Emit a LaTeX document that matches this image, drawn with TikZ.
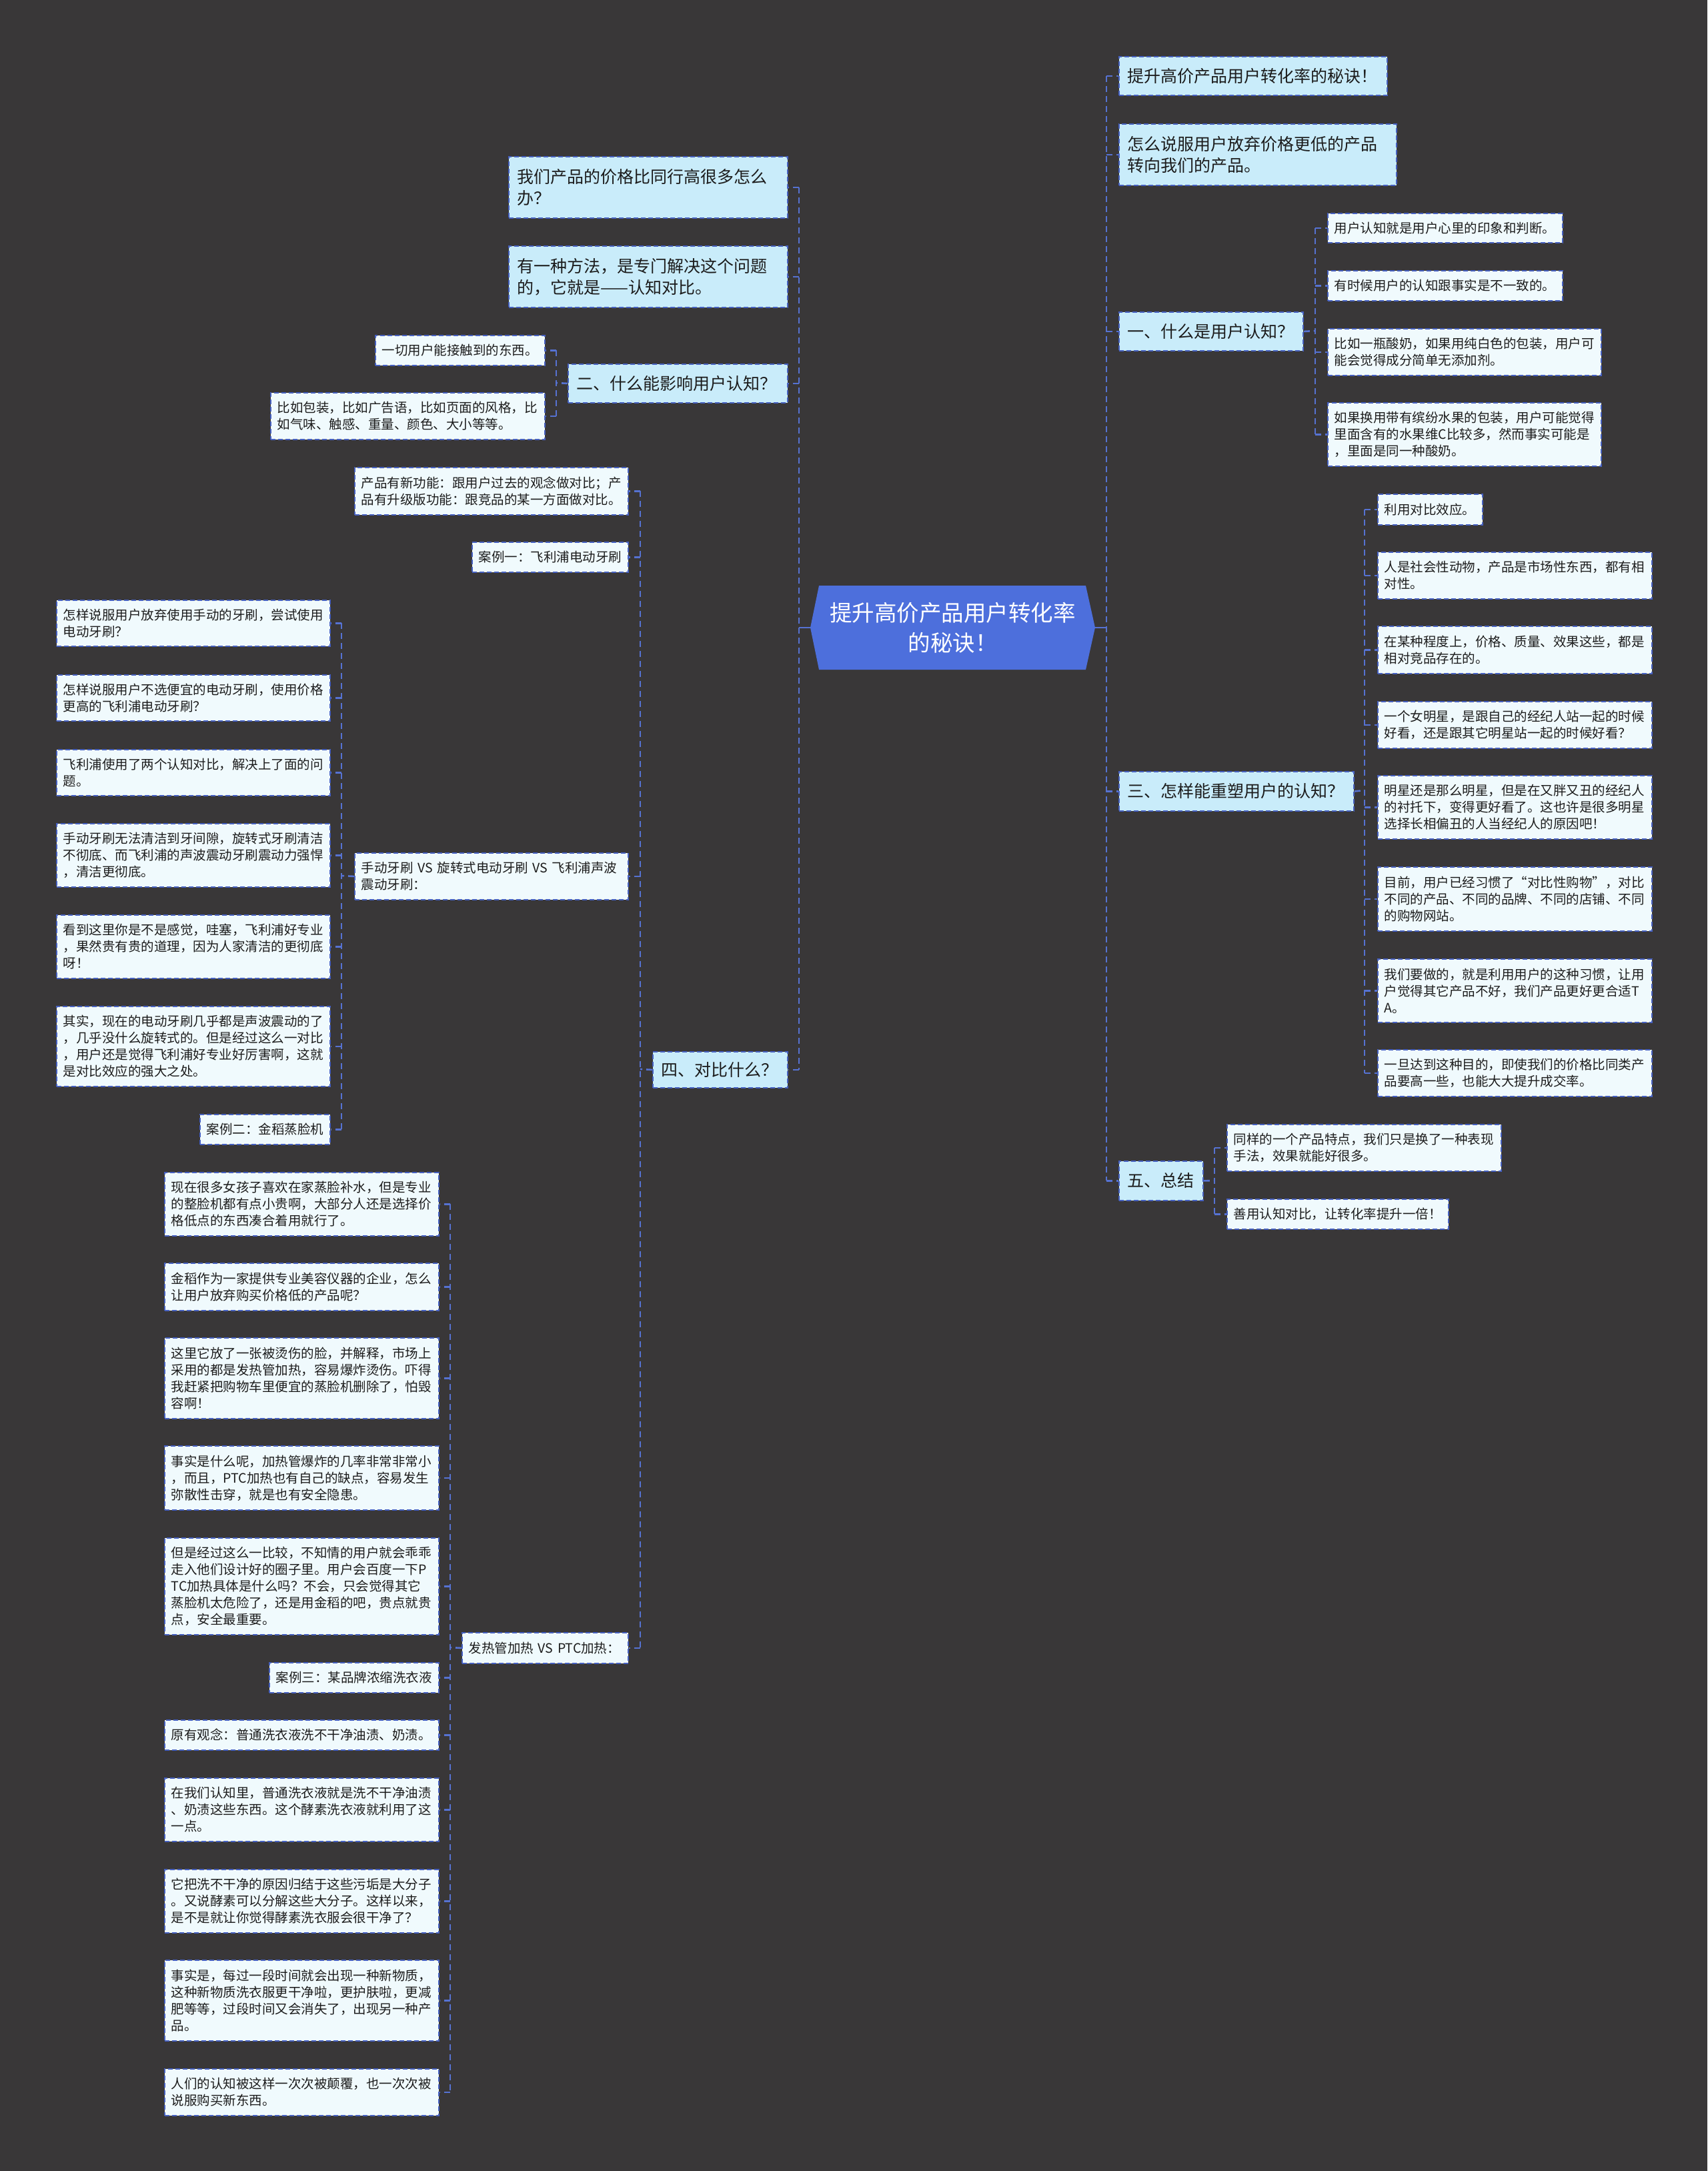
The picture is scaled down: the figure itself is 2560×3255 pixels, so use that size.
\documentclass[tikz,border=0pt]{standalone}
\usepackage{fontspec}
\setmainfont{Noto Sans CJK SC}
\usetikzlibrary{calc}
\definecolor{bgc}{HTML}{393738}
\definecolor{lvlfill}{HTML}{C9ECFA}
\definecolor{leaffill}{HTML}{F0FAFD}
\definecolor{bordc}{HTML}{4660C0}
\definecolor{connc}{HTML}{5672D2}
\definecolor{rootc}{HTML}{4D6FDC}
\definecolor{txtc}{HTML}{1C1C1C}
\tikzset{
  boxbase/.style={draw=bordc, line width=1.8pt, dash pattern=on 7pt off 4pt, text=txtc, align=left, inner ysep=0pt},
  lvl/.style={boxbase, fill=lvlfill, font=\fontsize{25}{32}\selectfont},
  leaf/.style={boxbase, fill=leaffill, font=\fontsize{19.5}{25}\selectfont},
  conn/.style={draw=connc, line width=2.6pt, dash pattern=on 9pt off 6pt},
  connsolid/.style={draw=connc, line width=2.6pt},
}
% #1 style, #2 name, #3 pad, #4 x1, #5 y1, #6 x2, #7 y2, #8 text
\newcommand\mmbox[8]{%
  \pgfmathsetmacro\mmw{#6-#4}%
  \pgfmathsetmacro\mmh{#7-#5}%
  \pgfmathsetmacro\mmt{#6-#4-2*#3}%
  \node[#1, inner xsep=#3pt, minimum width=\mmw pt, minimum height=\mmh pt, text width=\mmt pt, anchor=north west] (#2) at (#4,#5) {#8};%
}
\begin{document}
\begin{tikzpicture}[x=1pt, y=-1pt]
\useasboundingbox (0,0) rectangle (2560,3255);
\fill[bgc] (0,0) rectangle (2560,3255);

% ---------- root ----------
\fill[rootc] (1215,941) -- (1228,878) -- (1628,878) -- (1642,941) -- (1628,1004) -- (1228,1004) -- cycle;
\node[minimum width=427pt, minimum height=126pt, inner sep=0pt, align=center, text=white,
      font=\fontsize{33.5}{45}\selectfont] (root) at (1428.5,941) {提升高价产品用户转化率\\的秘诀！};

% ---------- right side level 1 ----------
\mmbox{lvl}{A1}{13}{1677}{84}{2079}{142}{提升高价产品用户转化率的秘诀！}
\mmbox{lvl}{A2}{13}{1677}{185}{2093}{277}{怎么说服用户放弃价格更低的产品\\转向我们的产品。}
\mmbox{lvl}{one}{13}{1677}{467}{1953}{525}{一、什么是用户认知？}
\mmbox{lvl}{three}{13}{1677}{1156}{2029}{1215}{三、怎样能重塑用户的认知？}
\mmbox{lvl}{five}{13}{1677}{1740}{1803}{1799}{五、总结}

% 一 children
\mmbox{leaf}{o1}{10}{1990}{319}{2342}{363}{用户认知就是用户心里的印象和判断。}
\mmbox{leaf}{o2}{10}{1990}{405}{2342}{450}{有时候用户的认知跟事实是不一致的。}
\mmbox{leaf}{o3}{10}{1990}{492}{2400}{562}{比如一瓶酸奶，如果用纯白色的包装，用户可\\能会觉得成分简单无添加剂。}
\mmbox{leaf}{o4}{10}{1990}{603}{2400}{698}{如果换用带有缤纷水果的包装，用户可能觉得\\里面含有的水果维C比较多，然而事实可能是\\，里面是同一种酸奶。}

% 三 children
\mmbox{leaf}{t1}{10}{2065}{740}{2222}{786}{利用对比效应。}
\mmbox{leaf}{t2}{10}{2065}{827}{2476}{897}{人是社会性动物，产品是市场性东西，都有相\\对性。}
\mmbox{leaf}{t3}{10}{2065}{938}{2476}{1009}{在某种程度上，价格、质量、效果这些，都是\\相对竞品存在的。}
\mmbox{leaf}{t4}{10}{2065}{1051}{2476}{1121}{一个女明星，是跟自己的经纪人站一起的时候\\好看，还是跟其它明星站一起的时候好看？}
\mmbox{leaf}{t5}{10}{2065}{1162}{2476}{1257}{明星还是那么明星，但是在又胖又丑的经纪人\\的衬托下，变得更好看了。这也许是很多明星\\选择长相偏丑的人当经纪人的原因吧！}
\mmbox{leaf}{t6}{10}{2065}{1299}{2476}{1395}{目前，用户已经习惯了“对比性购物”，对比\\不同的产品、不同的品牌、不同的店铺、不同\\的购物网站。}
\mmbox{leaf}{t7}{10}{2065}{1437}{2476}{1532}{我们要做的，就是利用用户的这种习惯，让用\\户觉得其它产品不好，我们产品更好更合适T\\A。}
\mmbox{leaf}{t8}{10}{2065}{1573}{2476}{1643}{一旦达到这种目的，即使我们的价格比同类产\\品要高一些，也能大大提升成交率。}

% 五 children
\mmbox{leaf}{f1}{10}{1839}{1685}{2250}{1755}{同样的一个产品特点，我们只是换了一种表现\\手法，效果就能好很多。}
\mmbox{leaf}{f2}{10}{1839}{1797}{2171}{1842}{善用认知对比，让转化率提升一倍！}

% ---------- left side level 1 ----------
\mmbox{lvl}{B1}{13}{762}{234}{1180}{326}{我们产品的价格比同行高很多怎么\\办？}
\mmbox{lvl}{B2}{13}{762}{368}{1180}{460}{有一种方法，是专门解决这个问题\\的，它就是——认知对比。}
\mmbox{lvl}{two}{13}{851}{545}{1180}{603}{二、什么能影响用户认知？}
\mmbox{lvl}{four}{13}{978}{1576}{1180}{1630}{四、对比什么？}

% 二 children
\mmbox{leaf}{w1}{10}{562}{502}{816}{547}{一切用户能接触到的东西。}
\mmbox{leaf}{w2}{10}{405}{588}{816}{658}{比如包装，比如广告语，比如页面的风格，比\\如气味、触感、重量、颜色、大小等等。}

% 四 children
\mmbox{leaf}{s1}{10}{531}{700}{941}{771}{产品有新功能：跟用户过去的观念做对比；产\\品有升级版功能：跟竞品的某一方面做对比。}
\mmbox{leaf}{s2}{10}{707}{812}{941}{857}{案例一：飞利浦电动牙刷}
\mmbox{leaf}{s3}{10}{531}{1278}{941}{1348}{手动牙刷~VS~旋转式电动牙刷~VS~飞利浦声波\\震动牙刷：}
\mmbox{leaf}{s4}{10}{692}{2447}{941}{2493}{发热管加热~VS~PTC加热：}

% 手动牙刷 VS children
\mmbox{leaf}{h1}{10}{84}{899}{494}{968}{怎样说服用户放弃使用手动的牙刷，尝试使用\\电动牙刷？}
\mmbox{leaf}{h2}{10}{84}{1011}{494}{1080}{怎样说服用户不选便宜的电动牙刷，使用价格\\更高的飞利浦电动牙刷？}
\mmbox{leaf}{h3}{10}{84}{1123}{494}{1192}{飞利浦使用了两个认知对比，解决上了面的问\\题。}
\mmbox{leaf}{h4}{10}{84}{1234}{494}{1329}{手动牙刷无法清洁到牙间隙，旋转式牙刷清洁\\不彻底、而飞利浦的声波震动牙刷震动力强悍\\，清洁更彻底。}
\mmbox{leaf}{h5}{10}{84}{1371}{494}{1466}{看到这里你是不是感觉，哇塞，飞利浦好专业\\，果然贵有贵的道理，因为人家清洁的更彻底\\呀！}
\mmbox{leaf}{h6}{10}{84}{1508}{494}{1628}{其实，现在的电动牙刷几乎都是声波震动的了\\，几乎没什么旋转式的。但是经过这么一对比\\，用户还是觉得飞利浦好专业好厉害啊，这就\\是对比效应的强大之处。}
\mmbox{leaf}{h7}{10}{299}{1670}{494}{1715}{案例二：金稻蒸脸机}

% 发热管加热 VS PTC加热 children
\mmbox{leaf}{p1}{10}{246}{1757}{657}{1852}{现在很多女孩子喜欢在家蒸脸补水，但是专业\\的整脸机都有点小贵啊，大部分人还是选择价\\格低点的东西凑合着用就行了。}
\mmbox{leaf}{p2}{10}{246}{1893}{657}{1964}{金稻作为一家提供专业美容仪器的企业，怎么\\让用户放弃购买价格低的产品呢？}
\mmbox{leaf}{p3}{10}{246}{2005}{657}{2126}{这里它放了一张被烫伤的脸，并解释，市场上\\采用的都是发热管加热，容易爆炸烫伤。吓得\\我赶紧把购物车里便宜的蒸脸机删除了，怕毁\\容啊！}
\mmbox{leaf}{p4}{10}{246}{2167}{657}{2263}{事实是什么呢，加热管爆炸的几率非常非常小\\，而且，PTC加热也有自己的缺点，容易发生\\弥散性击穿，就是也有安全隐患。}
\mmbox{leaf}{p5}{10}{246}{2305}{657}{2450}{但是经过这么一比较，不知情的用户就会乖乖\\走入他们设计好的圈子里。用户会百度一下P\\TC加热具体是什么吗？不会，只会觉得其它\\蒸脸机太危险了，还是用金稻的吧，贵点就贵\\点，安全最重要。}
\mmbox{leaf}{p6}{10}{403}{2492}{657}{2537}{案例三：某品牌浓缩洗衣液}
\mmbox{leaf}{p7}{10}{246}{2578}{657}{2623}{原有观念：普通洗衣液洗不干净油渍、奶渍。}
\mmbox{leaf}{p8}{10}{246}{2665}{657}{2760}{在我们认知里，普通洗衣液就是洗不干净油渍\\、奶渍这些东西。这个酵素洗衣液就利用了这\\一点。}
\mmbox{leaf}{p9}{10}{246}{2802}{657}{2897}{它把洗不干净的原因归结于这些污垢是大分子\\。又说酵素可以分解这些大分子。这样以来，\\是不是就让你觉得酵素洗衣服会很干净了？}
\mmbox{leaf}{p10}{10}{246}{2938}{657}{3059}{事实是，每过一段时间就会出现一种新物质，\\这种新物质洗衣服更干净啦，更护肤啦，更减\\肥等等，过段时间又会消失了，出现另一种产\\品。}
\mmbox{leaf}{p11}{10}{246}{3101}{657}{3171}{人们的认知被这样一次次被颠覆，也一次次被\\说服购买新东西。}

% ---------- trunk coordinates ----------
\coordinate (tR) at (1659,941);
\coordinate (tL) at (1198,941);
\coordinate (tOne) at (1972,496);
\coordinate (tThree) at (2046,1185);
\coordinate (tFive) at (1821,1770);
\coordinate (tTwo) at (834,574);
\coordinate (tFour) at (960,1603);
\coordinate (tS3) at (512,1313);
\coordinate (tS4) at (675,2470);

% ---------- connectors ----------
\begin{scope}[on background layer/.try]
\end{scope}
% root to trunks
\draw[connsolid] (root.east) -- (tR);
\draw[connsolid] (root.west) -- (tL);
% right trunk
\draw[conn] (tR |- A1.west) -- (tR |- five.west);
\foreach \n in {A1,A2,one,three,five} \draw[conn] (tR |- \n.west) -- (\n.west);
% left trunk
\draw[conn] (tL |- B1.east) -- (tL |- four.east);
\foreach \n in {B1,B2,two,four} \draw[conn] (tL |- \n.east) -- (\n.east);
% 一
\draw[conn] (one.east) -- (tOne);
\draw[conn] (tOne |- o1.west) -- (tOne |- o4.west);
\foreach \n in {o1,o2,o3,o4} \draw[conn] (tOne |- \n.west) -- (\n.west);
% 三
\draw[conn] (three.east) -- (tThree);
\draw[conn] (tThree |- t1.west) -- (tThree |- t8.west);
\foreach \n in {t1,t2,t3,t4,t5,t6,t7,t8} \draw[conn] (tThree |- \n.west) -- (\n.west);
% 五
\draw[conn] (five.east) -- (tFive);
\draw[conn] (tFive |- f1.west) -- (tFive |- f2.west);
\foreach \n in {f1,f2} \draw[conn] (tFive |- \n.west) -- (\n.west);
% 二
\draw[conn] (two.west) -- (tTwo);
\draw[conn] (tTwo |- w1.east) -- (tTwo |- w2.east);
\foreach \n in {w1,w2} \draw[conn] (tTwo |- \n.east) -- (\n.east);
% 四
\draw[conn] (four.west) -- (tFour);
\draw[conn] (tFour |- s1.east) -- (tFour |- s4.east);
\foreach \n in {s1,s2,s3,s4} \draw[conn] (tFour |- \n.east) -- (\n.east);
% 手动牙刷 VS
\draw[conn] (s3.west) -- (tS3);
\draw[conn] (tS3 |- h1.east) -- (tS3 |- h7.east);
\foreach \n in {h1,h2,h3,h4,h5,h6,h7} \draw[conn] (tS3 |- \n.east) -- (\n.east);
% 发热管加热 VS PTC加热
\draw[conn] (s4.west) -- (tS4);
\draw[conn] (tS4 |- p1.east) -- (tS4 |- p11.east);
\foreach \n in {p1,p2,p3,p4,p5,p6,p7,p8,p9,p10,p11} \draw[conn] (tS4 |- \n.east) -- (\n.east);
\end{tikzpicture}
\end{document}
